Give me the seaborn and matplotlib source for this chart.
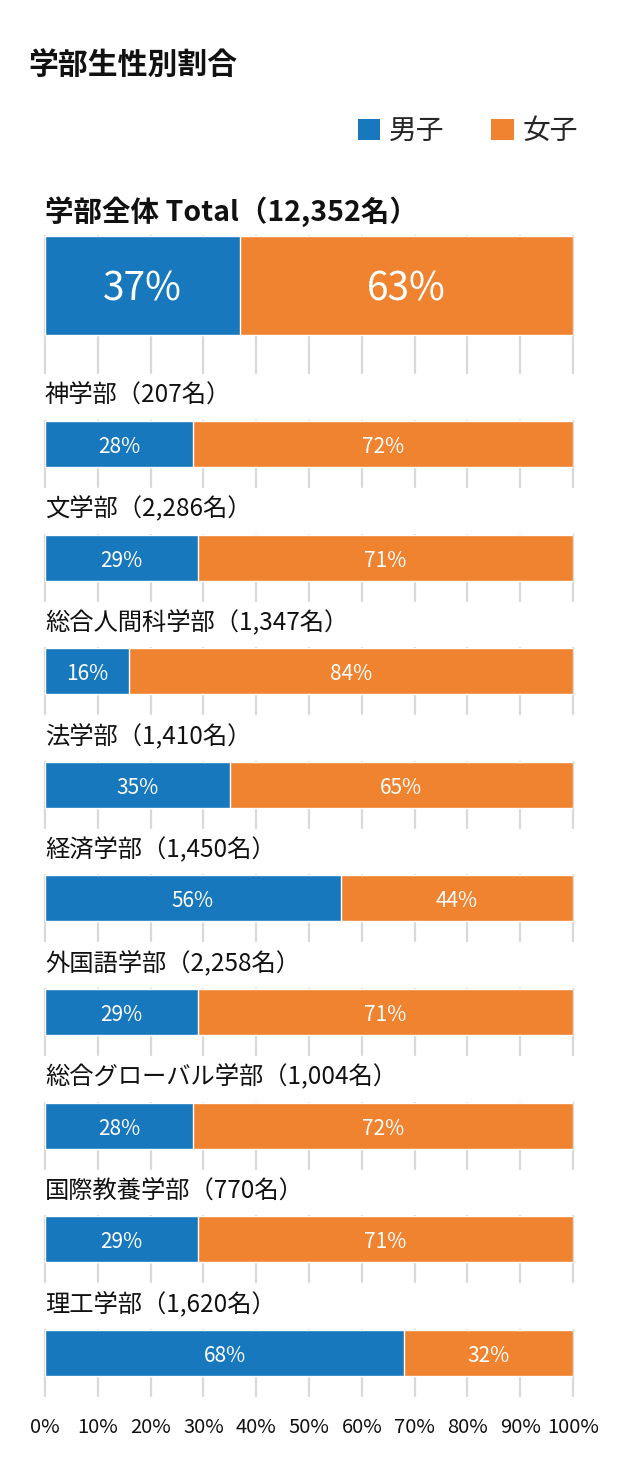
import matplotlib
matplotlib.use("Agg")
import matplotlib.pyplot as plt
import seaborn as sns
from matplotlib.patches import Patch
from matplotlib.transforms import ScaledTranslation

# ---------------- data ----------------
faculties = ["神学部", "文学部", "総合人間科学部", "法学部", "経済学部",
             "外国語学部", "総合グローバル学部", "国際教養学部", "理工学部"]
students = [207, 2286, 1347, 1410, 1450, 2258, 1004, 770, 1620]
male_pct = [28, 29, 16, 35, 56, 29, 28, 29, 68]
female_pct = [72, 71, 84, 65, 44, 71, 72, 71, 32]

total_label = "学部全体 Total"
total_students = 12352
total_male = 37
total_female = 63

ticks = [0, 10, 20, 30, 40, 50, 60, 70, 80, 90, 100]
tick_labels = [f"{t}%" for t in ticks]
legend_labels = ["男子", "女子"]
title = "学部生性別割合"

# ---------------- style ----------------
BLUE = "#1778bd"
ORANGE = "#f08330"
GRID = "#d9d9d9"
TXT = "#111111"
sns.set_theme(style="white")
plt.rcParams["font.family"] = ["Noto Sans CJK JP", "DejaVu Sans"]

W, H = 631, 1475
fig = plt.figure(figsize=(W / 100, H / 100), dpi=100)
fig.patch.set_facecolor("white")

X0, X1 = 45, 573


def fy(px):
    return 1 - px / H


def make_row(name, count, label_y, label_size, label_weight,
             male, female, bar_top, bar_h, gap, pct_size, pct_dy, last=False):
    fig.text(X0 / W, fy(label_y), f"{name}（{count:,}名）", fontsize=label_size,
             fontweight=label_weight, color=TXT, ha="left", va="center")
    ax = fig.add_axes([X0 / W, fy(bar_top + bar_h + gap), (X1 - X0) / W, (bar_h + gap) / H])
    cat = [name]
    sns.barplot(x=[male + female], y=cat, color=ORANGE, width=0.8, orient="h",
                edgecolor="white", linewidth=1, ax=ax, saturation=1)
    sns.barplot(x=[male], y=cat, color=BLUE, width=0.8, orient="h",
                edgecolor="white", linewidth=1, ax=ax, saturation=1)
    gu = gap * 0.8 / bar_h
    ax.set_xlim(0, 100)
    ax.set_ylim(0.4 + gu, -0.4)
    ax.set_xticks(ticks)
    ax.grid(axis="x", color=GRID, linewidth=1.6)
    ax.grid(axis="y", visible=False)
    ax.set_axisbelow(True)
    for gl in ax.get_xgridlines():
        gl.set_clip_on(False)
    for s in ax.spines.values():
        s.set_visible(False)
    ax.set_ylabel("")
    ax.set_xlabel("")
    ax.set_yticks([])
    ax.patch.set_alpha(0)
    tr = ax.transData + ScaledTranslation(0, -pct_dy / 100, fig.dpi_scale_trans)
    ax.text(male / 2, 0, f"{male}%", ha="center", va="center",
            color="white", fontsize=pct_size, transform=tr)
    ax.text(male + female / 2, 0, f"{female}%", ha="center", va="center",
            color="white", fontsize=pct_size, transform=tr)
    if last:
        ax.set_xticklabels(tick_labels)
        ax.tick_params(axis="x", length=0, pad=15, labelsize=14.5,
                       labelcolor=TXT, labelbottom=True)
    else:
        ax.tick_params(axis="x", length=0, labelbottom=False)
    return ax


# title
fig.text(28 / W, fy(65), title, fontsize=21.5, fontweight="bold",
         color=TXT, ha="left", va="center")

# legend
handles = [Patch(facecolor=BLUE, edgecolor="none"), Patch(facecolor=ORANGE, edgecolor="none")]
fig.legend(handles, legend_labels, loc="center right",
           bbox_to_anchor=(578 / W, fy(131)), ncol=2, frameon=False,
           fontsize=20, handlelength=0.82, handleheight=0.82,
           handletextpad=0.3, columnspacing=1.7, borderpad=0, borderaxespad=0)

# total row
make_row(total_label, total_students, 212, 20.5, "bold",
         total_male, total_female, 236, 99, 38, 28, 4)

# faculty rows
for i, (name, n, m, f) in enumerate(zip(faculties, students, male_pct, female_pct)):
    step = 113.6 * i
    make_row(name, n, 395 + step, 17.5, "normal",
             m, f, 421 + step, 46, 20, 15, 3, last=(i == len(faculties) - 1))

fig.savefig("out.png", dpi=100, facecolor="white")
